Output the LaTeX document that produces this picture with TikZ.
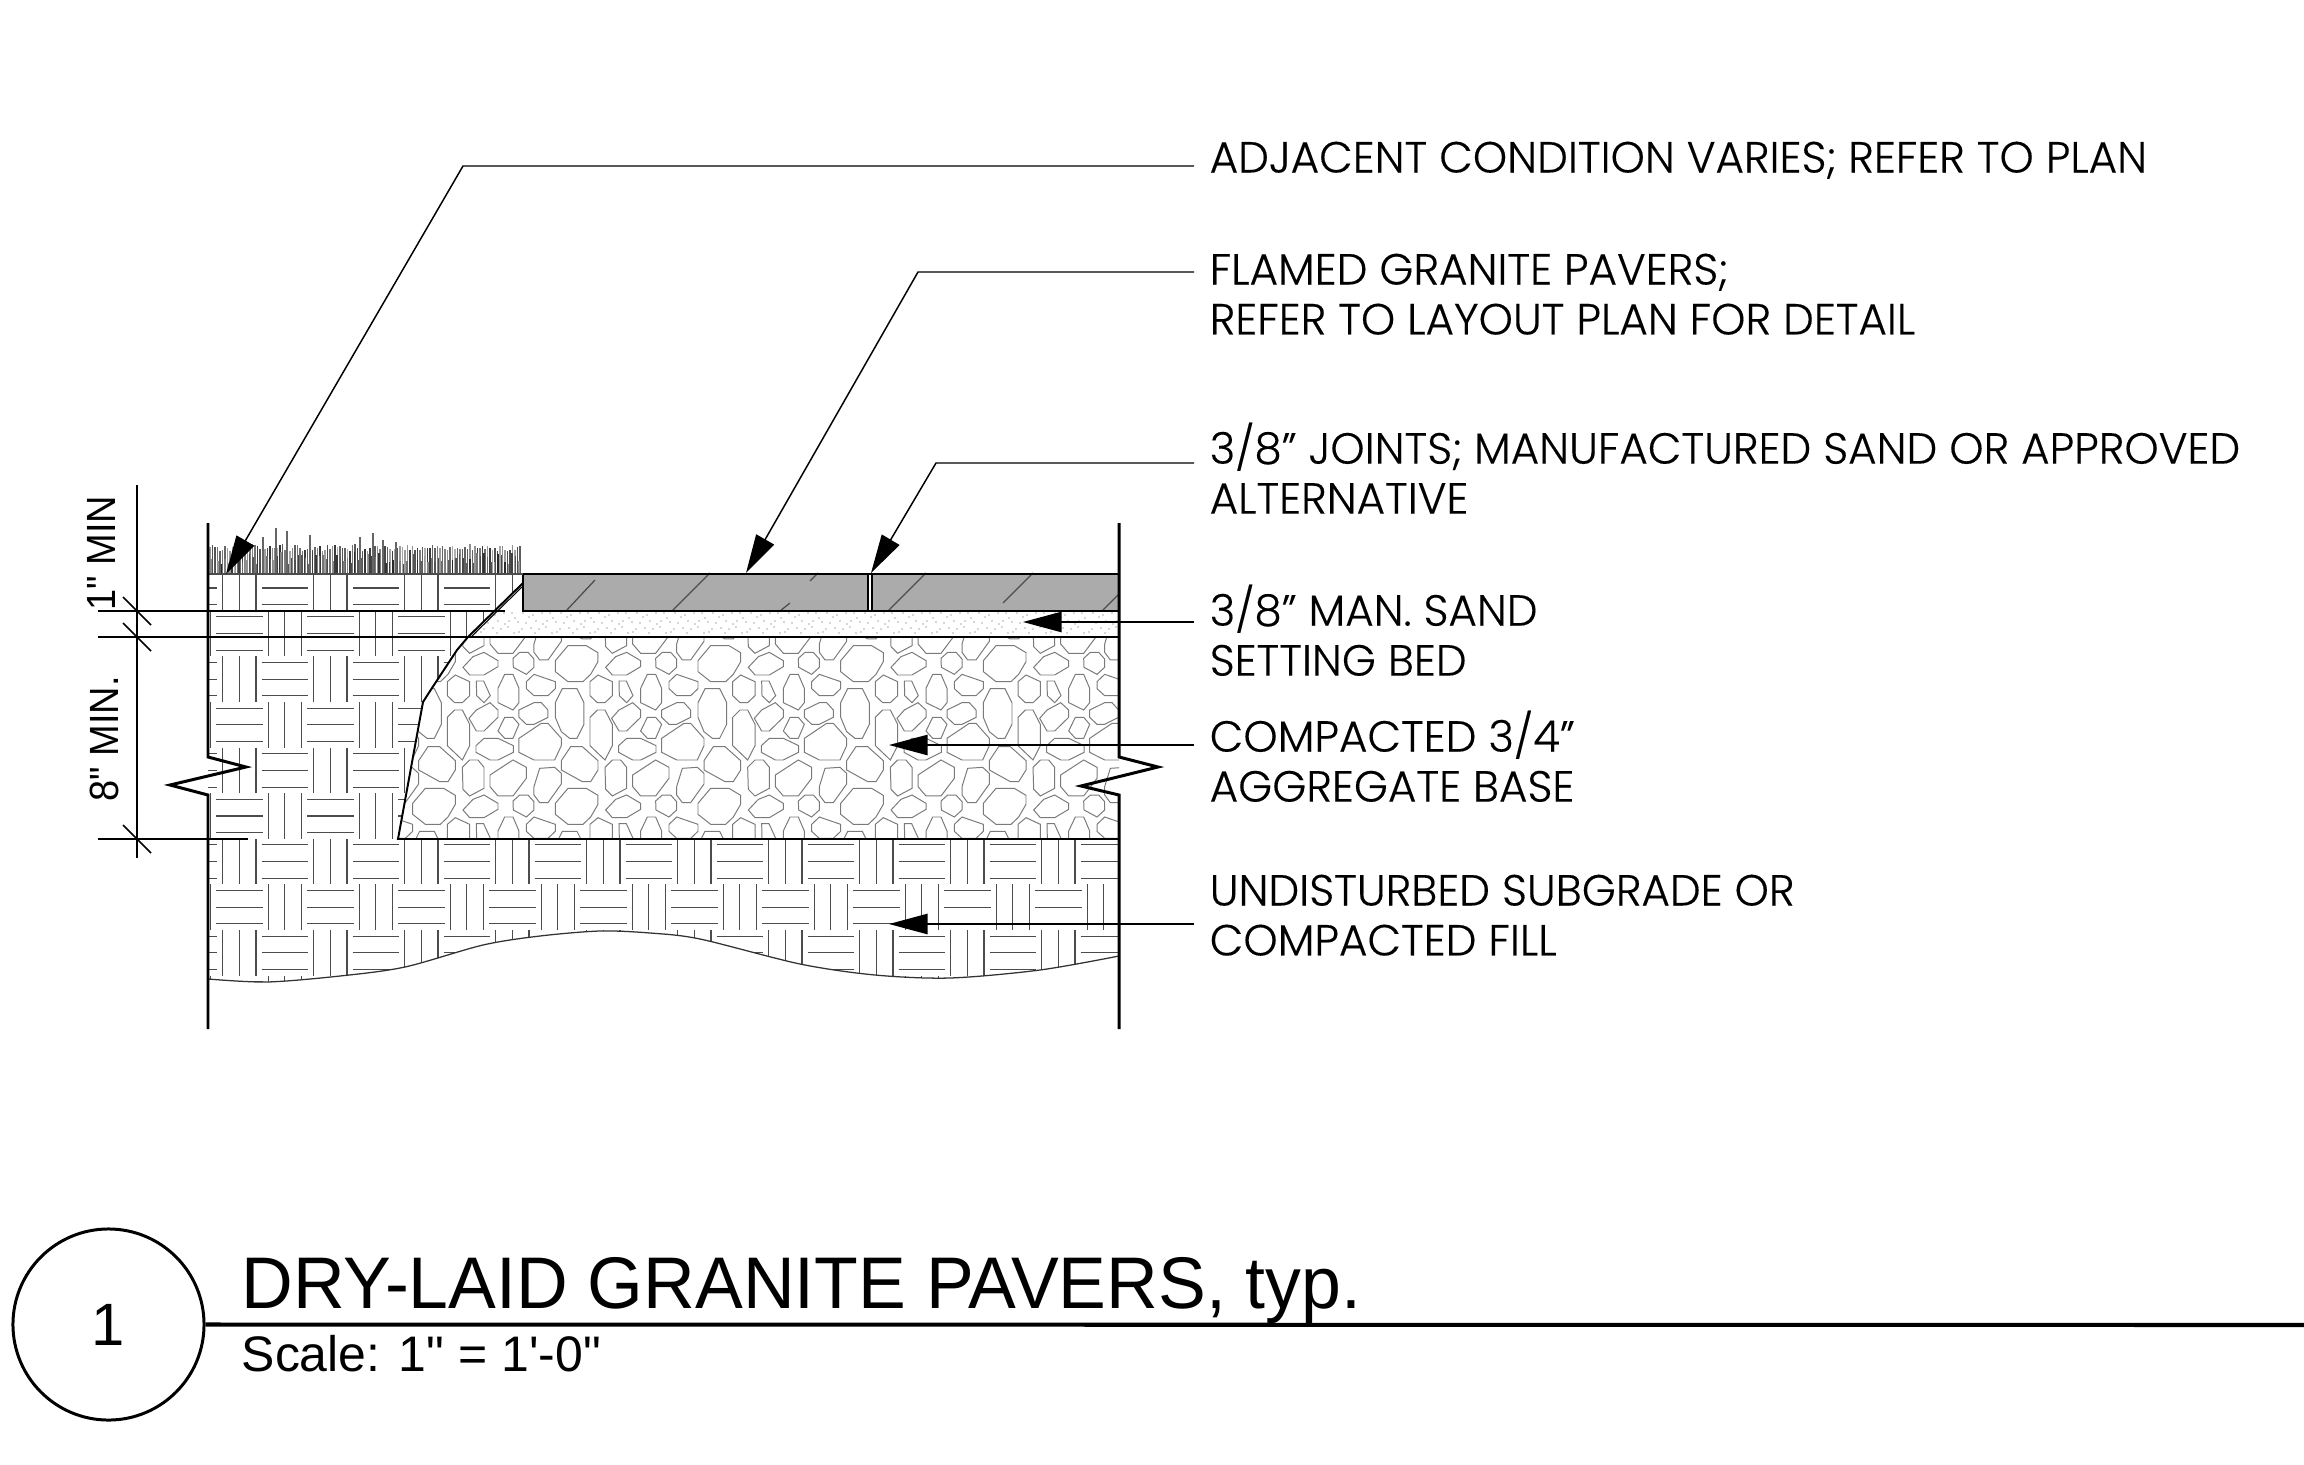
\documentclass[tikz,border=0pt]{standalone}
\usepackage{fontspec}
\usetikzlibrary{arrows.meta}
\setmainfont{Poppins Light}[FakeBold=.25]
\newfontfamily\titlefont{Liberation Sans}

\tikzset{
  note/.style={anchor=north west,align=left,inner xsep=4.27pt,inner ysep=0pt,font=\fontsize{12.4}{14.2}\selectfont},
  leader/.style={line width=.42pt,-{Triangle[length=11pt,width=5.8pt]}},
  wall/.style={line width=.85pt},
  heavy/.style={line width=.56pt},
  dimline/.style={line width=.5pt},
  weave/.style={line width=.3pt,black!70},
  rock/.style={line width=.28pt,black!52},
  slash/.style={line width=.36pt,black!70},
  dimtext/.style={rotate=90,inner sep=0pt,font=\titlefont\fontsize{11.6}{13}\selectfont}
}

% one tile of the aggregate
\newcommand{\rocktile}{
  \draw[rock] (422,92)--(460,47)--(515,47)--(550,68)--(550,95)--(528,133)--(505,155)--(460,155)--(422,125)--cycle;
  \draw[rock] (145,112)--(175,80)--(208,67)--(250,92)--(250,110)--(208,135)--(165,135)--cycle;
  \draw[rock] (295,85)--(315,67)--(340,67)--(358,87)--(358,112)--(335,133)--(296,112)--cycle;
  \draw[rock] (143,412)--(165,390)--(190,390)--(208,412)--(208,475)--(165,498)--(145,478)--cycle;
  \draw[rock] (226,435)--(295,390)--(335,412)--(335,445)--(295,498)--(250,498)--(226,470)--cycle;
  \draw[rock] (358,470)--(375,415)--(420,412)--(440,430)--(440,462)--(400,518)--(375,518)--(358,495)--cycle;
  \draw[rock] (12,392)--(40,350)--(75,350)--(122,392)--(122,420)--(100,455)--(75,455)--(12,420)--cycle;
  \draw[rock] (98,155)--(122,135)--(165,155)--(165,197)--(143,218)--(120,218)--(98,197)--cycle;
  \draw[rock] (185,153)--(207,153)--(227,197)--(208,218)--(186,197)--cycle;
  \draw[rock] (250,175)--(270,133)--(295,133)--(313,175)--(313,218)--(295,240)--(250,218)--cycle;
  \draw[rock] (335,155)--(358,133)--(422,155)--(422,176)--(400,197)--(358,197)--(335,176)--cycle;
  \draw[rock] (422,218)--(443,176)--(487,176)--(508,218)--(508,283)--(487,325)--(465,325)--(440,305)--(422,262)--cycle;
  \draw[rock] (98,262)--(120,240)--(143,240)--(165,283)--(165,347)--(143,390)--(98,347)--cycle;
  \draw[rock] (163,265)--(185,240)--(226,218)--(250,240)--(250,262)--(208,303)--(185,303)--cycle;
  \draw[rock] (250,303)--(270,262)--(295,262)--(313,283)--(295,325)--(270,325)--cycle;
  \draw[rock] (313,240)--(358,218)--(380,218)--(400,240)--(400,262)--(358,283)--(335,283)--(313,262)--cycle;
  \draw[rock] (184,347)--(208,325)--(250,325)--(296,347)--(296,367)--(250,390)--(226,390)--(184,367)--cycle;
  \draw[rock] (313,325)--(380,280)--(400,280)--(440,325)--(440,347)--(420,390)--(358,390)--(313,367)--cycle;
}

\begin{document}
\begin{tikzpicture}[x=.01cm,y=-.01cm]
\useasboundingbox (0,0) rectangle (2304,1464);

% subgrade
\begin{scope}
  \clip (208,574)--(523,574)--(523,583)--(468,637)--(457,650)--(432,688)--(423,702)--(398,839)--(1119,839)
    --plot[smooth] coordinates {(1119,956)(1040,970)(950,978)(875,975)(800,964)(700,939)(650,933)(600,931)(540,936)(483,945)(405,967)(340,976)(267,982)(208,979)}--cycle;
  \foreach \i in {-1,...,20}
    \foreach \j in {-5,...,4}{
      \pgfmathsetmacro\cx{239.3+45.5*\i}
      \pgfmathsetmacro\cy{816+45.6*\j}
      \pgfmathtruncatemacro\weavepar{\i+\j+10}
      \ifodd\weavepar
        \foreach \d in {-16.7,0,16.7}
          \draw[weave] (\cx+\d,\cy-22.8) -- (\cx+\d,\cy+22.8);
      \else
        \foreach \d in {-16.7,0,16.7}
          \draw[weave] (\cx-23.2,\cy+\d) -- (\cx+23.2,\cy+\d);
      \fi
    }
\end{scope}
\draw[line width=.36pt,black!80] plot[smooth] coordinates {(1119,956)(1040,970)(950,978)(875,975)(800,964)(700,939)(650,933)(600,931)(540,936)(483,945)(405,967)(340,976)(267,982)(208,979)};

% aggregate
\begin{scope}
  \clip (398,839)--(423,702)--(432,688)--(457,650)--(468,637)--(1119,637)--(1119,839)--cycle;
  \foreach \i in {-3,...,3}
    \foreach \j in {-1,0,1}{
      \begin{scope}[shift={(700+\i*142.67,630+\j*142.67)},scale=.3333]
        \rocktile
      \end{scope}
    }
\end{scope}

% sand bed
\begin{scope}
  \clip (523,583)--(523,611)--(1119,611)--(1119,637)--(468,637)--cycle;
  \foreach \i in {0,...,17}
    \foreach \dx/\dy in {4/53,9/61,15/58,23/53,29/57,36/61,1/69,8/67,14/73,22/69,31/68,18/62,12/53,33/55,26/63,5/64,19/72,35/73}
      \fill[black!70] (462+\i*38+\dx,560+\dy) circle (.6);
\end{scope}

% pavers
\fill[black!33] (523,574) rectangle (868.5,611);
\fill[black!33] (871.5,574) rectangle (1119,611);
\draw[slash] (566,611)--(595,580);
\draw[slash] (672,611)--(710,573);
\draw[slash] (780,611)--(790,603);
\draw[slash] (810,581)--(818,573);
\draw[slash] (888,611)--(926,573);
\draw[slash] (1003,603)--(1033,573);
\draw[slash] (1102,611)--(1119,594);
\draw[heavy] (523,574)--(1119,574);
\draw[heavy] (523,574)--(523,611)--(1119,611);
\draw[line width=.3pt] (868,574)--(868,611);
\draw[line width=.3pt] (872,574)--(872,611);

% grass
\pgfmathsetseed{41}
\foreach \x in {210,212.5,...,522}{
  \pgfmathsetmacro\h{23+7*rnd}
  \pgfmathsetmacro\s{30+50*rnd}
  \draw[line width=.3pt,black!\s] (\x,574)--(\x,574-\h);
}
\foreach \x in {211,214.5,...,522}{
  \pgfmathsetmacro\h{10+12*rnd}
  \pgfmathsetmacro\s{40+45*rnd}
  \draw[line width=.3pt,black!\s] (\x,574)--(\x,574-\h);
}
\foreach \x/\t in {276/528,287/531,263/537,310/535,360/537,373/533,383/540,396/542}
  \draw[line width=.3pt,black!60] (\x,574)--(\x,\t);
\draw[line width=.4pt,black!70] (208,574)--(523,574);

% aggregate edge, lines across
\draw[heavy] (1119,839)--(398,839)--(423,702)--(432,688)--(457,650)--(468,637);
\draw[heavy] (468,637)--(523,583);
\draw[line width=.3pt] (471,637)--(523,586);
\draw[heavy] (98,637)--(1119,637);
\draw[dimline] (98,611)--(505,611);
\draw[dimline] (98,839)--(248,839);

% walls
\draw[wall] (208,523)--(208,757)--(246,767)--(170,785)--(208,795)--(208,1029);
\draw[wall] (1119,523)--(1119,757)--(1158,767)--(1081,786)--(1119,795)--(1119,1029);

% dimensions
\draw[dimline] (137,485)--(137,858);
\foreach \y in {611,637,839}
  \draw[dimline] (123,\y-14)--(151,\y+14);
\node[dimtext] (minone) at (101,553) {\scalebox{.93}[1]{1" MIN}};
\node[dimtext] (mineight) at (104,739) {\scalebox{.93}[1]{8" MIN.}};

% notes
\node[note] (adjacent) at (1194,141) {ADJACENT CONDITION VARIES; REFER TO PLAN};
\node[note] (pavers) at (1194,253) {FLAMED GRANITE PAVERS;\\REFER TO LAYOUT PLAN FOR DETAIL};
\node[note] (joints) at (1194,422) {3/8" JOINTS; MANUFACTURED SAND OR APPROVED\\ALTERNATIVE};
\node[note] (sand) at (1194,584) {3/8" MAN. SAND\\SETTING BED};
\node[note] (base) at (1194,710) {COMPACTED 3/4"\\AGGREGATE BASE};
\node[note] (subgrade) at (1194,874) {UNDISTURBED SUBGRADE OR\\COMPACTED FILL};

\coordinate (adjacenttip) at (226,574);
\coordinate (adjacentbend) at (463,166);
\coordinate (paverstip) at (746,573);
\coordinate (paversbend) at (918,272);
\coordinate (jointstip) at (871,573);
\coordinate (jointsbend) at (936,463);
\coordinate (sandtip) at (1023,622);
\coordinate (basetip) at (889,745);
\coordinate (subgradetip) at (889,924);

\draw[leader] (adjacent.west |- adjacentbend)--(adjacentbend)--(adjacenttip);
\draw[leader] (pavers.west |- paversbend)--(paversbend)--(paverstip);
\draw[leader] (joints.west |- jointsbend)--(jointsbend)--(jointstip);
\draw[leader] (sand.west |- sandtip)--(sandtip);
\draw[leader] (base.west |- basetip)--(basetip);
\draw[leader] (subgrade.west |- subgradetip)--(subgradetip);

% title block
\node[circle,draw,line width=.85pt,minimum size=191*.2845pt,inner sep=0pt,font=\titlefont\fontsize{17}{20}\selectfont] (number) at (108.5,1324.5) {1};
\coordinate (ruleend) at (2304,1325);
\draw[line width=1.15pt] (number.east)--(ruleend);
\node[anchor=base west,inner sep=0pt,font=\titlefont\fontsize{20.8}{24}\selectfont] (title) at (241,1308) {\scalebox{.979}[1]{DRY-LAID GRANITE PAVERS, typ.}};
\node[anchor=base west,inner sep=0pt,font=\titlefont\fontsize{14.2}{16}\selectfont] (scale) at (241,1371) {Scale: 1" = 1'-0"};
\end{tikzpicture}
\end{document}
